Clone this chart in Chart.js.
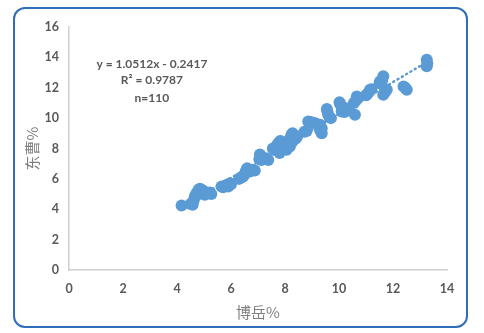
<!DOCTYPE html>
<html>
<head>
<meta charset="utf-8">
<script src="https://cdn.jsdelivr.net/npm/chart.js@4"></script>
<style>
  html, body { margin: 0; padding: 0; background: #fff; }
  #wrap { position: relative; width: 484px; height: 333px; }
  #chart { position: absolute; left: 0; top: 0; }
  #frame {
    position: absolute; left: 13px; top: 7px; width: 451px; height: 317px;
    border: 2px solid #2f6eba; border-radius: 12px; pointer-events: none;
  }
</style>
</head>
<body>
<div id="wrap">
  <canvas id="chart" width="484" height="333"></canvas>
  <div id="frame"></div>
</div>
<script>
// ===== DATA =====
const xTitle = '博岳%';
const yTitle = '东曹%';

const boyue = [
  4.17, 4.50, 4.58, 4.62, 4.66, 4.72, 4.78, 4.81, 4.85, 4.90, 4.95, 5.00, 5.03, 5.10, 5.15, 5.22, 5.27, 4.75,
  5.65, 5.71, 5.80, 5.83, 5.90, 5.96, 6.00,
  6.30, 6.33, 6.40, 6.45, 6.50, 6.55, 6.58, 6.65, 6.70, 6.80, 6.88, 6.60,
  7.05, 7.07, 7.10, 7.13, 7.30, 7.38,
  7.55, 7.60, 7.70, 7.75, 7.80, 7.82, 7.87, 7.95, 8.00, 8.06, 8.10, 8.18, 8.20, 8.24, 8.28, 8.31, 8.37, 8.40, 8.45, 8.25,
  8.72, 8.80, 8.86, 8.95, 9.05, 9.11, 9.20, 9.30, 9.36, 9.36, 9.30,
  9.55, 9.57, 9.60, 9.65, 9.70, 10.02, 10.05, 10.10, 10.15, 10.22, 10.30, 10.35, 10.59, 10.55, 10.62, 10.66, 10.70, 10.20,
  11.00, 11.03, 11.10, 11.15, 11.20, 11.50, 11.52, 11.60, 11.64, 11.64, 11.70, 11.77,
  12.39, 12.45, 12.51,
  13.25, 13.25, 13.27
];
const dongcao = [
  4.24, 4.35, 4.30, 4.60, 4.84, 5.05, 5.20, 5.30, 5.35, 5.20, 5.25, 5.00, 4.95, 5.10, 5.05, 5.10, 5.00, 4.95,
  5.50, 5.45, 5.55, 5.60, 5.50, 5.71, 5.65,
  6.00, 6.04, 6.10, 6.15, 6.30, 6.50, 6.62, 6.55, 6.48, 6.60, 6.55, 6.70,
  7.30, 7.60, 7.45, 7.25, 7.35, 7.25,
  8.00, 7.90, 8.20, 8.35, 7.70, 8.50, 8.46, 8.20, 8.00, 7.91, 8.30, 8.13, 8.70, 8.90, 9.00, 8.57, 8.79, 8.65, 8.80, 8.40,
  9.10, 9.15, 9.78, 9.75, 9.70, 9.67, 9.60, 9.56, 9.01, 9.34, 9.20,
  10.60, 10.45, 10.22, 10.05, 10.00, 11.05, 10.90, 10.44, 10.60, 10.66, 10.50, 10.55, 10.22, 11.00, 11.15, 11.43, 11.30, 10.40,
  11.50, 11.54, 11.70, 11.87, 11.90, 12.30, 12.42, 12.50, 12.75, 11.54, 11.70, 11.87,
  12.09, 12.00, 11.87,
  13.85, 13.41, 13.60
];

// dotted trendline ends
const trendX = [4.2, 13.3];
const trendY = [4.17, 13.74];

const xTicks = [0, 2, 4, 6, 8, 10, 12, 14];
const yTicks = [0, 2, 4, 6, 8, 10, 12, 14, 16];

const noteLines = ['y = 1.0512x - 0.2417', 'R² = 0.9787', 'n=110'];
const noteX = 3.07;
const noteY = [13.58, 12.48, 11.34];

// ===== CHART =====
const BLUE = '#5b9bd5';
const TEXT = '#595959';
const AXIS = '#d0d0d0';

const points = boyue.map((x, i) => ({ x: x, y: dongcao[i] }));
const trend = trendX.map((x, i) => ({ x: x, y: trendY[i] }));

const notePlugin = {
  id: 'note',
  afterDatasetsDraw(chart) {
    const { ctx, scales } = chart;
    ctx.save();
    ctx.fillStyle = TEXT;
    ctx.font = 'bold 12px Lato';
    ctx.textAlign = 'center';
    ctx.textBaseline = 'middle';
    noteLines.forEach((t, i) => {
      ctx.fillText(t, scales.x.getPixelForValue(noteX), scales.y.getPixelForValue(noteY[i]));
    });
    ctx.restore();
  }
};

new Chart(document.getElementById('chart'), {
  type: 'scatter',
  data: {
    datasets: [
      {
        type: 'line',
        data: trend,
        borderColor: BLUE,
        borderWidth: 2.5,
        borderDash: [1, 4],
        borderCapStyle: 'round',
        pointRadius: 0,
        fill: false,
      },
      {
        data: points,
        backgroundColor: BLUE,
        borderColor: BLUE,
        borderWidth: 0,
        pointRadius: 6,
      },
    ],
  },
  options: {
    responsive: false,
    animation: false,
    events: [],
    layout: { padding: { top: 27, right: 37, left: 0, bottom: 0 } },
    plugins: { legend: { display: false }, tooltip: { enabled: false } },
    scales: {
      x: {
        type: 'linear',
        min: 0,
        max: 14,
        afterBuildTicks: s => { s.ticks = xTicks.map(v => ({ value: v })); },
        afterFit: s => { s.height = 63; },
        grid: { display: false, drawTicks: false },
        border: { display: true, color: AXIS, width: 1.5 },
        ticks: { color: TEXT, padding: 11, font: { family: 'Lato', size: 12.5, weight: 'bold' } },
        title: {
          display: true,
          text: xTitle,
          color: '#7f7f7f',
          padding: { top: 0, bottom: 12 },
          font: { family: 'Noto Sans CJK SC', size: 15 },
        },
      },
      y: {
        type: 'linear',
        min: 0,
        max: 16,
        afterBuildTicks: s => { s.ticks = yTicks.map(v => ({ value: v })); },
        afterFit: s => { s.width = 69; },
        grid: { display: false, drawTicks: false },
        border: { display: true, color: AXIS, width: 1.5 },
        ticks: { color: TEXT, padding: 10, font: { family: 'Lato', size: 12.5, weight: 'bold' } },
        title: {
          display: true,
          text: yTitle,
          color: '#7f7f7f',
          padding: { top: 23, bottom: 0 },
          font: { family: 'Noto Sans CJK SC', size: 15 },
        },
      },
    },
  },
  plugins: [notePlugin],
});
</script>
</body>
</html>
